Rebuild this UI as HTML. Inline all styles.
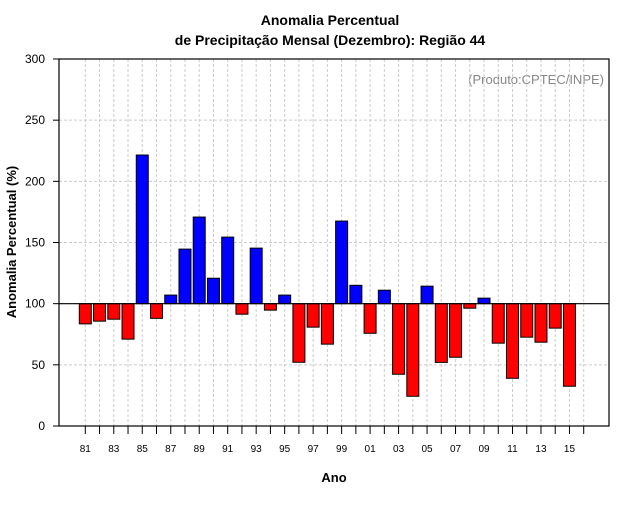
<!DOCTYPE html>
<html><head><meta charset="utf-8"><style>
body{margin:0;background:#fff;width:640px;height:500px;overflow:hidden}
svg{font-family:"Liberation Sans",sans-serif}
</style></head><body>
<svg id="chart" width="640" height="500">
<text x="330" y="25" text-anchor="middle" font-size="14" font-weight="bold">Anomalia Percentual</text>
<text x="330" y="45" text-anchor="middle" font-size="14" font-weight="bold">de Precipitação Mensal (Dezembro): Região 44</text>
<text x="604" y="84" text-anchor="end" font-size="13" fill="#888">(Produto:CPTEC/INPE)</text>
<text x="334" y="482" text-anchor="middle" font-size="13" font-weight="bold">Ano</text>
<text transform="translate(16,242) rotate(-90)" text-anchor="middle" font-size="13" font-weight="bold">Anomalia Percentual (%)</text>
<g id="grid"></g><g id="bars"></g><g id="axes"></g>
</svg>
<script>
const years=[81,82,83,84,85,86,87,88,89,90,91,92,93,94,95,96,97,98,99,0,1,2,3,4,5,6,7,8,9,10,11,12,13,14,15];
const values=[83.5,85.7,87.3,71,221.5,88,107,144.6,170.8,120.8,154.4,91.4,145.4,94.7,107,52.1,80.8,66.9,167.5,115,75.8,111,42.3,24.3,114.3,52,56.2,96.3,104.5,67.7,39,72.6,68.5,80,32.5];
const yTicks=[0,50,100,150,200,250,300];
const baseline=100;
const NS="http://www.w3.org/2000/svg";
const L=59,R=609,T=59,B=426;
const y=v=>B-(v/300)*(B-T);
const x=i=>85.3+i*14.24;
function mk(tag,attrs,parent){const e=document.createElementNS(NS,tag);for(const k in attrs)e.setAttribute(k,attrs[k]);parent.appendChild(e);return e;}
const grid=document.getElementById('grid'),bars=document.getElementById('bars'),axes=document.getElementById('axes');
yTicks.forEach(t=>{
 if(t>0&&t<300){const g=mk('line',{x1:L,x2:R,y1:y(t),y2:y(t),stroke:'#ccc','stroke-dasharray':'3,2'},grid);
 
 }
 const tk=mk('line',{x1:L-6,x2:L,y1:y(t),y2:y(t),stroke:'#000'},axes);
 
 
 const lb=mk('text',{x:L-14,y:y(t)+4,'text-anchor':'end','font-size':'12'},axes);lb.textContent=t;
 
 
});
for(let i=0;i<=years.length;i++){
 const g=mk('line',{x1:x(i),x2:x(i),y1:T,y2:B,stroke:'#ccc','stroke-dasharray':'3,2'},grid);
 
 
 const tk=mk('line',{x1:x(i),x2:x(i),y1:B,y2:B+8,stroke:'#000'},axes);
 
 
}
years.forEach((yr,i)=>{
 const v=values[i];const top=Math.min(y(v),y(baseline)),h=Math.abs(y(v)-y(baseline));
 const r=mk('rect',{x:x(i)-6,y:top,width:12,height:h,fill:v>=baseline?'#0000ff':'#ff0000',stroke:'#000','stroke-width':'1'},bars);
 
 
 if(i%2===0){const lb=mk('text',{x:x(i),y:B+26,'text-anchor':'middle','font-size':'10'},axes);lb.textContent=String(yr).padStart(2,'0');
 
 }
});
const bl=mk('line',{x1:L,x2:R,y1:y(baseline),y2:y(baseline),stroke:'#000','stroke-width':'1.2'},axes);


const box=mk('rect',{x:L,y:T,width:R-L,height:B-T,fill:'none',stroke:'#000','stroke-width':'1.2'},axes);


</script>
</body></html>
